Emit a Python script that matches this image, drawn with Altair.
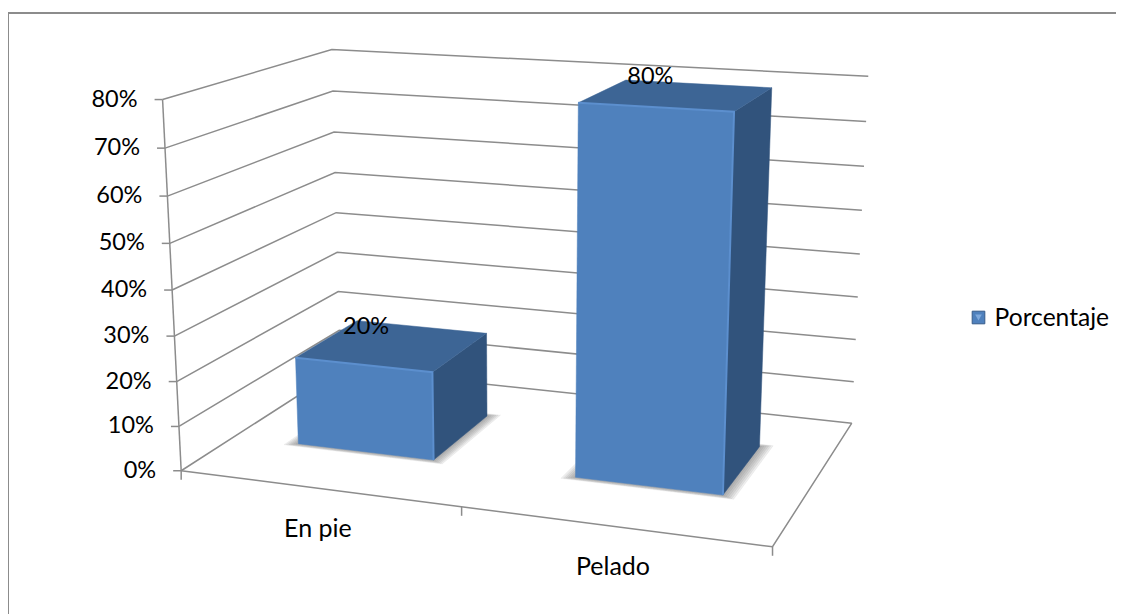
import altair as alt
import numpy as np
import pandas as pd

categories = ["En pie", "Pelado"]
values = [20, 80]
series_name = "Porcentaje"
ticks = [0, 10, 20, 30, 40, 50, 60, 70, 80]
tick_labels = ["0%", "10%", "20%", "30%", "40%", "50%", "60%", "70%", "80%"]
value_labels = ["20%", "80%"]

W, H = 1108, 606
FONT = "Lato"
GRAY = "#8c8c8c"
FRONT, TOP, SIDE = "#4F81BD", "#3D6595", "#31537C"
EDGE = "#5C8FCE"

# footprint of each bar: across start/end, depth start/end
bar_u = [(0.122, 0.374), (0.626, 0.875)]
bar_d = [(0.305, 0.71), (0.305, 0.71)]

# camera fit: box and bar corners (across, value/80, depth) -> picture position
box = [((0, 0, 0), (180, 468)), ((1, 0, 0), (775, 547)), ((1, 0, 1), (852, 421)), ((0, 0, 1), (341, 371)),
       ((0, 1, 1), (333, 48)), ((1, 1, 1), (869, 73)), ((0, 1, 0), (162, 98)), ((0.5, 0, 0), (461, 507)),
       ((0.626, 1, 0.305), (580, 104)), ((0.875, 1, 0.305), (733, 113)), ((0.875, 1, 0.71), (770, 91)),
       ((0.122, 0.25, 0.305), (298, 359)), ((0.374, 0.25, 0.305), (432, 373)), ((0.374, 0.25, 0.71), (483, 335)),
       ((0.626, 0, 0.305), (575, 477)), ((0.875, 0, 0.305), (723, 495)),
       ((0.122, 0, 0.305), (299, 443)), ((0.374, 0, 0.305), (433, 460))]
A = []
for (u, v, d), (px, py) in box:
    A.append([u, v, d, 1, 0, 0, 0, 0, -px * u, -px * v, -px * d, -px])
    A.append([0, 0, 0, 0, u, v, d, 1, -py * u, -py * v, -py * d, -py])
P = np.linalg.svd(np.array(A, float))[2][-1].reshape(3, 4)


def project(u, pct, d):
    q = P @ np.array([u, pct / 80.0, d, 1.0])
    return q[0] / q[2], q[1] / q[2]


X = alt.X("x:Q", scale=alt.Scale(domain=[8, 8 + W], nice=False, zero=False), axis=None)
Y = alt.Y("y:Q", scale=alt.Scale(domain=[8 + H, 8], nice=False, zero=False), axis=None)


def frame(points):
    return pd.DataFrame([{"x": p[0], "y": p[1], "i": i} for i, p in enumerate(points)])


def path(points, color=GRAY, width=1.5):
    return alt.Chart(frame(points)).mark_line(color=color, strokeWidth=width).encode(x=X, y=Y, order="i:Q")


def poly(points, color, opacity=1.0):
    pts = list(points) + [points[0]]
    return alt.Chart(frame(pts)).mark_line(fill=color, stroke=color, strokeWidth=0.5, fillOpacity=opacity,
                                           strokeOpacity=opacity).encode(x=X, y=Y, order="i:Q")


def texts(xs, ys, labels, size, align="center"):
    df = pd.DataFrame({"x": xs, "y": ys, "t": labels})
    return alt.Chart(df).mark_text(font=FONT, fontSize=size, align=align, baseline="middle", color="#000").encode(
        x=X, y=Y, text="t:N")


layers = []
layers.append(path([(8, 13), (8, 614)], width=2))
layers.append(path([(8, 13), (1116, 13)], width=2))

for t in ticks:
    layers.append(path([project(0, t, 0), project(0, t, 1), project(1, t, 1)]))
    a = project(0, t, 0)
    layers.append(path([(a[0] - 8, a[1]), a]))
layers.append(path([project(0, 0, 0), project(0, 80, 0)]))
layers.append(path([project(0, 0, 0), project(1, 0, 0), project(1, 0, 1)]))
for u in [0, 0.5, 1]:
    a = project(u, 0, 0)
    layers.append(path([a, (a[0], a[1] + 9)]))

layers.append(texts([project(0, t, 0)[0] - 25 for t in ticks], [project(0, t, 0)[1] for t in ticks],
                    tick_labels, 23.5, "right"))
layers.append(texts([project(u, 0, 0)[0] for u in (0.25, 0.75)], [project(u, 0, 0)[1] + 41 for u in (0.25, 0.75)],
                    categories, 25))

for (u0, u1), (d0, d1), val in zip(bar_u, bar_d, values):
    for k in (6, 5, 4, 3, 2, 1):
        e = 0.0035 * k
        s = [project(u0 - e, 0, d0 - e), project(u1 + e, 0, d0 - e),
             project(u1 + e, 0, d1 + e), project(u0 - e, 0, d1 + e)]
        layers.append(poly(s, "#666666", 0.11))
    layers.append(poly([project(u0, 0, d0), project(u1, 0, d0), project(u1, val, d0), project(u0, val, d0)], FRONT))
    layers.append(poly([project(u1, 0, d0), project(u1, 0, d1), project(u1, val, d1), project(u1, val, d0)], SIDE))
    layers.append(poly([project(u0, val, d0), project(u1, val, d0), project(u1, val, d1), project(u0, val, d1)], TOP))
    layers.append(path([project(u0, val, d0), project(u1, val, d0), project(u1, 0, d0)], EDGE, 2))

xs, ys = [], []
for (u0, u1), (d0, d1), val in zip(bar_u, bar_d, values):
    c = project((u0 + u1) / 2, val, (d0 + d1) / 2)
    xs.append(c[0] - 27)
    ys.append(c[1] - 18)
layers.append(texts(xs, ys, value_labels, 23.5))

anchor = project(0.75, 40, 0.4)
legend_df = pd.DataFrame({"x": [anchor[0]], "y": [anchor[1]], "s": [series_name]})
layers.insert(2, alt.Chart(legend_df).mark_square(size=1).encode(
    x=X, y=Y,
    color=alt.Color("s:N", scale=alt.Scale(domain=[series_name], range=[FRONT]),
                    legend=alt.Legend(title=None, orient="none", legendX=958, legendY=299, symbolType="square",
                                      symbolSize=170, labelFont=FONT, labelFontSize=24.6,
                                      labelColor="#000", symbolOpacity=0))))
swatch = pd.DataFrame({"x": [978.5], "y": [317.5]})
layers.append(alt.Chart(swatch).mark_square(size=160, color=FRONT, stroke="#385D8A", strokeWidth=1, opacity=1)
              .encode(x=X, y=Y))
layers.append(alt.Chart(swatch).mark_point(shape="triangle-down", filled=True, size=45, color="#7FA9DC", opacity=1)
              .encode(x=X, y=Y))

chart = alt.layer(*layers).properties(width=W, height=H, padding=0, autosize=alt.AutoSizeParams(type="none")) \
    .configure_view(stroke=None)
chart.save("out.html", embed_options={"renderer": "svg", "actions": False})
